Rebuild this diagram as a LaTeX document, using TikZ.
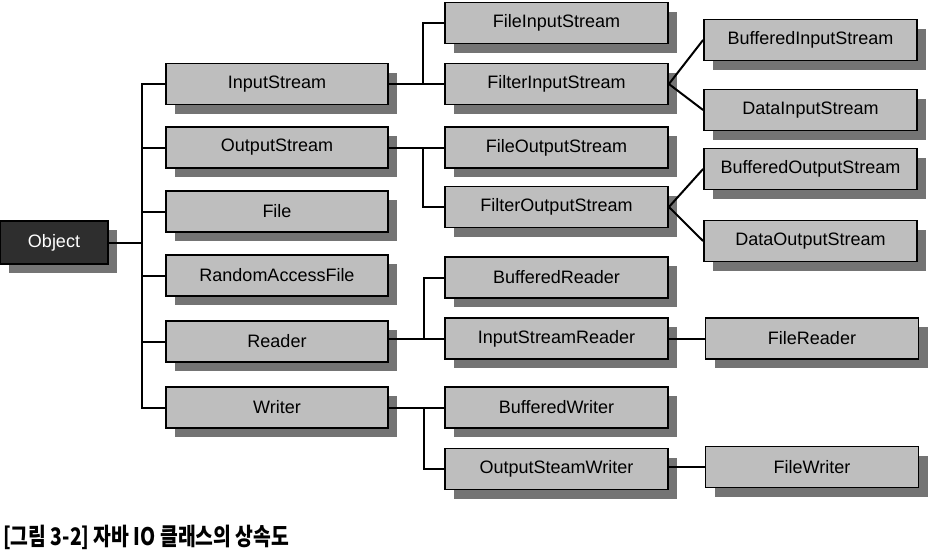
\documentclass[tikz,border=0pt]{standalone}
\usepackage{fontspec}
\setmainfont{Liberation Sans}
\newfontfamily\krfont{Noto Sans CJK KR}
\usetikzlibrary{shadows}
\definecolor{boxgray}{HTML}{BEBEBE}
\definecolor{shadgray}{HTML}{747474}
\definecolor{objgray}{HTML}{2E2E2E}
\begin{document}
\begin{tikzpicture}[x=1pt,y=-1pt,
  cls/.style={draw=black, line width=1.8pt, fill=boxgray, minimum height=41pt,
    inner sep=0pt, font=\fontsize{18}{21}\selectfont,
    drop shadow={shadow xshift=9pt, shadow yshift=-9pt, fill=shadgray, opacity=1}},
  colA/.style={cls, minimum width=222pt},
  colB/.style={cls, minimum width=223pt},
  colC/.style={cls, minimum width=213pt},
  objbox/.style={cls, fill=objgray, draw=black, text=white, minimum width=108pt, minimum height=43pt},
  link/.style={draw=black, line width=2pt}]
\useasboundingbox (0,0) rectangle (932,555);
% root
\node[objbox] (obj) at (54,242.5) {Object};
% column 1
\node[colA] (is) at (277,84) {InputStream};
\node[colA] (os) at (277,147.5) {OutputStream};
\node[colA] (file) at (277,211.5) {File};
\node[colA] (raf) at (277,275.5) {RandomAccessFile};
\node[colA] (rd) at (277,341.5) {Reader};
\node[colA] (wr) at (277,407.5) {Writer};
% column 2
\node[colB] (fis) at (556.5,23) {FileInputStream};
\node[colB] (filis) at (556.5,84) {FilterInputStream};
\node[colB] (fos) at (556.5,147.5) {FileOutputStream};
\node[colB] (filos) at (556.5,207) {FilterOutputStream};
\node[colB] (br) at (556.5,277.5) {BufferedReader};
\node[colB] (isr) at (556.5,338.5) {InputStreamReader};
\node[colB] (bw) at (556.5,407.5) {BufferedWriter};
\node[colB] (osw) at (556.5,469) {OutputSteamWriter};
% column 3
\node[colC] (bis) at (810.5,40) {BufferedInputStream};
\node[colC] (dis) at (810.5,110) {DataInputStream};
\node[colC] (bos) at (810.5,169) {BufferedOutputStream};
\node[colC] (dos) at (810.5,241) {DataOutputStream};
\node[colC] (fr) at (812,338.5) {FileReader};
\node[colC] (fw) at (812,467) {FileWriter};
% trunk
\coordinate (t) at (142,242.5);
\draw[link] (obj.east) -- (t);
\foreach \n in {is,os,file,raf,rd,wr} \draw[link] (t) |- (\n.west);
% column 2 links
\coordinate (b1) at (423,84);
\draw[link] (is.east) -- (filis.west);
\draw[link] (b1) |- (fis.west);
\coordinate (b2) at (423,147.5);
\draw[link] (os.east) -- (fos.west);
\draw[link] (b2) |- (filos.west);
\coordinate (b3) at (424,338.5);
\draw[link] (rd.east |- isr.west) -- (isr.west);
\draw[link] (b3) |- (br.west);
\coordinate (b4) at (424,407.5);
\draw[link] (wr.east) -- (bw.west);
\draw[link] (b4) |- (osw.west);
% column 3 links
\draw[link] (filis.east) -- (bis.west);
\draw[link] (filis.east) -- (dis.west);
\draw[link] (filos.east) -- (bos.west);
\draw[link] (filos.east) -- (dos.west);
\draw[link] (isr.east) -- (fr.west);
\draw[link] (osw.east |- fw.west) -- (fw.west);
% caption
\node[anchor=west, inner sep=0pt, xscale=0.92, yscale=1.15, transform shape, font=\krfont\bfseries\fontsize{21}{25}\selectfont] (cap) at (3,537.5) {[그림 3-2] 자바 IO 클래스의 상속도};
\end{tikzpicture}
\end{document}
